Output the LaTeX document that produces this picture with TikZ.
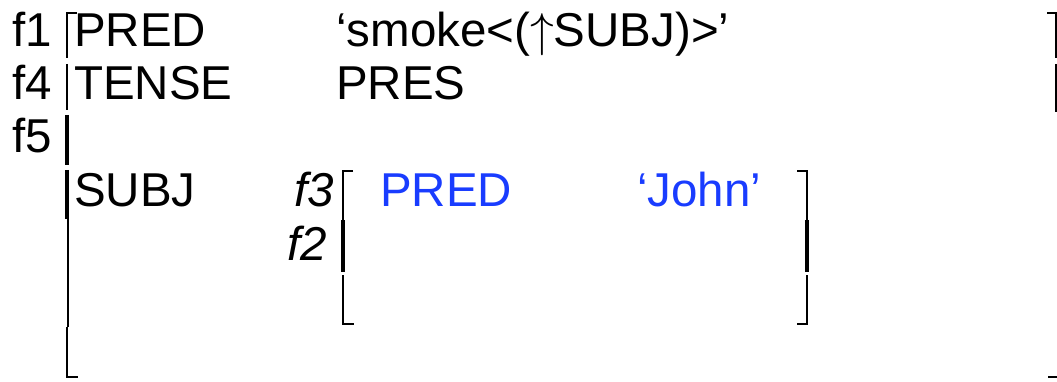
\RequirePackage{fix-cm}
\documentclass[tikz,border=0pt]{standalone}
\usepackage{fontspec}
\setmainfont{Liberation Sans}
\definecolor{attrblue}{RGB}{25,60,255}
\begin{document}
\begin{tikzpicture}[x=1pt,y=-1pt]
\tikzstyle{every node}+=[inner sep=0pt,anchor=base west,font=\fontsize{47.5}{57}\selectfont]
\tikzstyle{thin bar}=[line width=1.6pt]
\tikzstyle{thick bar}=[line width=3.6pt]
\useasboundingbox (0,0) rectangle (1057,382);
% labels of the outer f-structure
\node (f1) at (12,47) {f1};
\node (f4) at (12,100) {f4};
\node (f5) at (12,153) {f5};
\node (pred) at (74,47) {PRED};
\node (predval) at (336,47) {‘smoke<($\uparrow$SUBJ)>’};
\node (tense) at (74,100) {TENSE};
\node (tenseval) at (336,100) {PRES};
\node (subj) at (74,207) {SUBJ};
% inner f-structure
\node [anchor=base east] (f3) at (334,207) {\itshape f3};
\node [anchor=base east] (f2) at (327,260) {\itshape f2};
\node [text=attrblue] (ipred) at (380,207) {PRED};
\node [text=attrblue] (ipredval) at (637,207) {‘John’};
% outer left bracket
\draw [thin bar] (77,13) -- (67,13) -- (67,58);
\draw [thin bar] (67,64) -- (67,110);
\draw [thick bar] (67,115) -- (67,165);
\draw [thick bar] (67,170) -- (67,219);
\draw [line width=2.6pt] (68,219) -- (68,327);
\draw [thin bar] (67,327) -- (67,377) -- (78,377);
% outer right bracket
\draw [thin bar] (1047,13) -- (1056,13) -- (1056,58);
\draw [thin bar] (1056,64) -- (1056,112);
\draw [line width=2.4pt] (1048,377) -- (1057,377);
% inner left bracket
\draw [thin bar] (353,171) -- (343,171) -- (343,220);
\draw [thick bar] (343,220) -- (343,272);
\draw [thin bar] (343,275) -- (343,324) -- (354,324);
% inner right bracket
\draw [thin bar] (797,171) -- (807,171) -- (807,220);
\draw [thick bar] (807,220) -- (807,272);
\draw [thin bar] (807,275) -- (807,324) -- (797,324);
\end{tikzpicture}
\end{document}
